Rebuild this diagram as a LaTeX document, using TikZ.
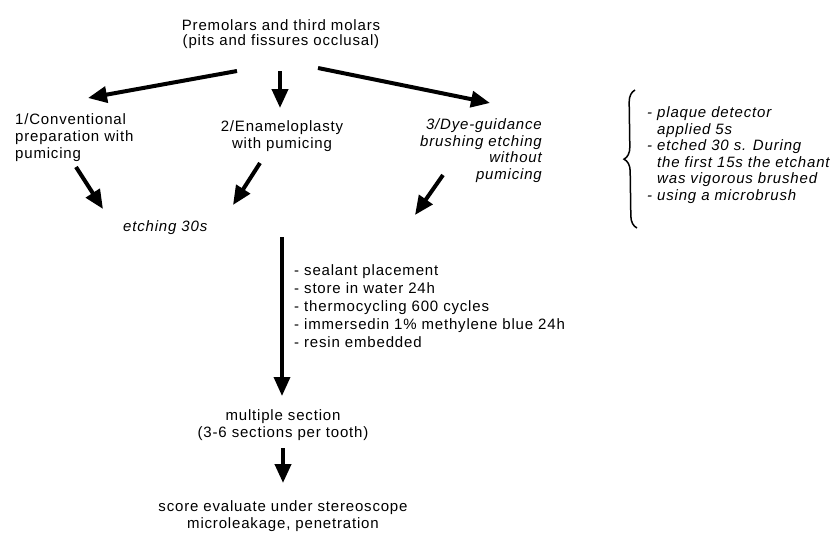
\documentclass[tikz,border=0pt]{standalone}
\usepackage{fontspec}
\setmainfont{Liberation Sans}[LetterSpace=5.5]
\usetikzlibrary{arrows.meta,decorations.pathreplacing}
\begin{document}
\begin{tikzpicture}[x=1pt,y=-1pt,
  txt/.style={inner sep=0pt, anchor=base, font=\fontsize{15pt}{17pt}\selectfont},
  itxt/.style={txt, font=\fontsize{15pt}{16.5pt}\selectfont\itshape},
  arr/.style={line width=4pt, -{Triangle[length=19pt,width=16pt]}},
]
\path[use as bounding box, fill=white] (0,0) rectangle (835,533);

% multi-line nodes are placed by the baseline of their last line
\node[txt, align=center, font=\fontsize{15pt}{15pt}\selectfont] (title) at (281,45)
  {Premolars and third molars\\(pits and fissures occlusal)};
\node[txt, align=left, anchor=base west] (n1) at (15,158)
  {1/Conventional\\preparation with\\pumicing};
\node[txt, align=center] (n2) at (282,148)
  {2/Enameloplasty\\with pumicing};
\node[itxt, align=right, anchor=base east] (n3) at (542,179)
  {3/Dye-guidance\\brushing etching\\without\\pumicing};
\node[itxt, anchor=base west] (etch) at (123,231) {etching 30s};
\node[txt, align=left, anchor=base west, font=\fontsize{15pt}{18pt}\selectfont] (list) at (294,347)
  {- sealant placement\\- store in water 24h\\- thermocycling 600 cycles\\- immersedin 1\% methylene blue 24h\\- resin embedded};
\node[txt, align=center] (ms) at (283,437)
  {multiple section\\(3-6 sections per tooth)};
\node[txt, align=center] (score) at (283,528)
  {score evaluate under stereoscope\\microleakage, penetration};
\node[itxt, align=left, anchor=base west] (note) at (647,200)
  {- plaque detector\\\hphantom{- }applied 5s\\- etched 30 s. During\\\hphantom{- }the first 15s the etchant\\\hphantom{- }was vigorous brushed\\- using a microbrush};

% arrow end points
\coordinate (t1) at (237,71);  \coordinate (h1) at (88,98);
\coordinate (t2) at (280,71);  \coordinate (h2) at (280,108);
\coordinate (t3) at (318,68);  \coordinate (h3) at (490,103);
\coordinate (a1) at (76,167);  \coordinate (b1) at (103,209);
\coordinate (a2) at (260,163); \coordinate (b2) at (233,205);
\coordinate (a3) at (443,175); \coordinate (b3) at (415,215);
\coordinate (v1) at (282,237); \coordinate (v2) at (282,396);
\coordinate (m1) at (283,448); \coordinate (m2) at (283,483);

\draw[arr] (t1) -- (h1);
\draw[arr] (t2) -- (h2);
\draw[arr] (t3) -- (h3);
\draw[arr] (a1) -- (b1);
\draw[arr] (a2) -- (b2);
\draw[arr] (a3) -- (b3);
\draw[arr, line width=3.5pt] (v1) -- (v2);
\draw[arr] (m1) -- (m2);

% brace
\coordinate (br1) at (637,228);
\coordinate (br2) at (635,90);
\draw[line width=1.5pt, decorate, decoration={brace, amplitude=12pt}] (br1) -- (br2);
\end{tikzpicture}
\end{document}
